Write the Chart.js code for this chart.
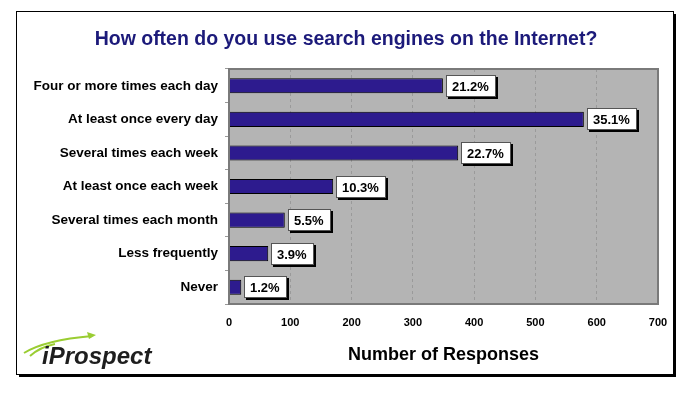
<!DOCTYPE html>
<html>
<head>
<meta charset="utf-8">
<script src="https://cdn.jsdelivr.net/npm/chart.js@4/dist/chart.umd.min.js"></script>
<style>
  html, body { margin: 0; padding: 0; background: #fff; }
  #wrap { width: 693px; height: 398px; }
</style>
</head>
<body>
<div id="wrap"><canvas id="myChart" width="693" height="398"></canvas></div>
<script>
const categories = [
  "Four or more times each day",
  "At least once every day",
  "Several times each week",
  "At least once each week",
  "Several times each month",
  "Less frequently",
  "Never",
];
const responses = [349, 579, 374, 170, 91, 64, 20];
const percentLabels = ["21.2%", "35.1%", "22.7%", "10.3%", "5.5%", "3.9%", "1.2%"];
const titleText = "How often do you use search engines on the Internet?";
const axisTitle = "Number of Responses";
const logoText = "iProspect";

const FONT = "'Liberation Sans', Arial, sans-serif";

// frame, title, plot background and logo
const decorations = {
  id: "decorations",
  beforeDraw(chart) {
    const { ctx, chartArea: a } = chart;
    ctx.save();
    ctx.fillStyle = "#fff";
    ctx.fillRect(0, 0, chart.width, chart.height);
    // outer frame with shadow
    ctx.fillStyle = "#000";
    ctx.fillRect(19, 14, 657, 363);
    ctx.fillStyle = "#fff";
    ctx.strokeStyle = "#000";
    ctx.lineWidth = 1;
    ctx.fillRect(16.5, 11.5, 657, 363);
    ctx.strokeRect(16.5, 11.5, 657, 363);
    // plot background
    ctx.fillStyle = "#b4b4b4";
    ctx.fillRect(a.left, a.top, a.right - a.left, a.bottom - a.top);
    // title
    ctx.fillStyle = "#1c1a7a";
    ctx.font = "bold 19.5px " + FONT;
    ctx.textAlign = "center";
    ctx.textBaseline = "middle";
    ctx.fillText(titleText, 346, 40);
    ctx.restore();
  },
  afterDraw(chart) {
    const { ctx, chartArea: a } = chart;
    ctx.save();
    ctx.strokeStyle = "#7a7a7a";
    ctx.lineWidth = 2;
    ctx.strokeRect(a.left, a.top, a.right - a.left, a.bottom - a.top);
    // logo swoosh
    ctx.strokeStyle = "#9acd32";
    ctx.lineWidth = 2;
    ctx.beginPath();
    ctx.moveTo(24, 353);
    ctx.quadraticCurveTo(45, 340, 92, 336);
    ctx.stroke();
    ctx.beginPath();
    ctx.moveTo(30, 356);
    ctx.quadraticCurveTo(40, 347, 55, 344);
    ctx.stroke();
    ctx.fillStyle = "#9acd32";
    ctx.beginPath();
    ctx.moveTo(96, 335);
    ctx.lineTo(87, 332);
    ctx.lineTo(89, 339);
    ctx.closePath();
    ctx.fill();
    ctx.fillStyle = "#1e1e1e";
    ctx.font = "italic bold 24px " + FONT;
    ctx.textAlign = "left";
    ctx.textBaseline = "alphabetic";
    ctx.fillText(logoText, 42, 364);
    ctx.restore();
  },
};

// white boxed percentage labels at bar ends
const boxLabels = {
  id: "boxLabels",
  afterDatasetsDraw(chart) {
    const { ctx } = chart;
    const meta = chart.getDatasetMeta(0);
    ctx.save();
    ctx.font = "bold 13px " + FONT;
    ctx.textBaseline = "middle";
    ctx.textAlign = "left";
    meta.data.forEach((bar, i) => {
      const txt = percentLabels[i];
      const w = Math.round(ctx.measureText(txt).width) + 13;
      const h = 22;
      const x = Math.round(bar.x) + 3;
      const y = Math.round(bar.y) - 11;
      ctx.fillStyle = "#000";
      ctx.fillRect(x + 2, y + 2, w, h);
      ctx.fillStyle = "#fff";
      ctx.fillRect(x, y, w, h);
      ctx.strokeStyle = "#555";
      ctx.lineWidth = 1;
      ctx.strokeRect(x + 0.5, y + 0.5, w - 1, h - 1);
      ctx.fillStyle = "#000";
      ctx.fillText(txt, x + 6, y + h / 2 + 1);
    });
    ctx.restore();
  },
};

const ctx = document.getElementById("myChart");
new Chart(ctx, {
  type: "bar",
  data: {
    labels: categories,
    datasets: [
      {
        data: responses,
        backgroundColor: "#2d1b8e",
        borderColor: "#000",
        borderWidth: 1,
        barPercentage: 0.45,
        categoryPercentage: 1,
      },
    ],
  },
  options: {
    indexAxis: "y",
    responsive: false,
    animation: false,
    layout: { padding: { top: 69, right: 35, bottom: 0, left: 0 } },
    scales: {
      x: {
        min: 0,
        max: 700,
        ticks: {
          stepSize: 100,
          color: "#000",
          padding: 12,
          font: { family: FONT, size: 11, weight: "bold" },
        },
        grid: {
          drawTicks: false,
          color: "#9a9a9a",
          lineWidth: 1,
        },
        border: { display: false, dash: [3, 3] },
        title: {
          display: true,
          text: axisTitle,
          color: "#000",
          font: { family: FONT, size: 18, weight: "bold" },
          padding: { top: 0, bottom: 32 },
        },
        afterFit(scale) {
          scale.height = 94;
        },
      },
      y: {
        ticks: {
          color: "#000",
          padding: 7,
          font: { family: FONT, size: 13.5, weight: "bold" },
        },
        grid: {
          drawOnChartArea: false,
          drawTicks: true,
          tickLength: 4,
          color: "#999",
        },
        border: { display: false },
        afterFit(scale) {
          scale.width = 229;
        },
      },
    },
    plugins: {
      legend: { display: false },
      tooltip: { enabled: false },
    },
  },
  plugins: [decorations, boxLabels],
});
</script>
</body>
</html>
